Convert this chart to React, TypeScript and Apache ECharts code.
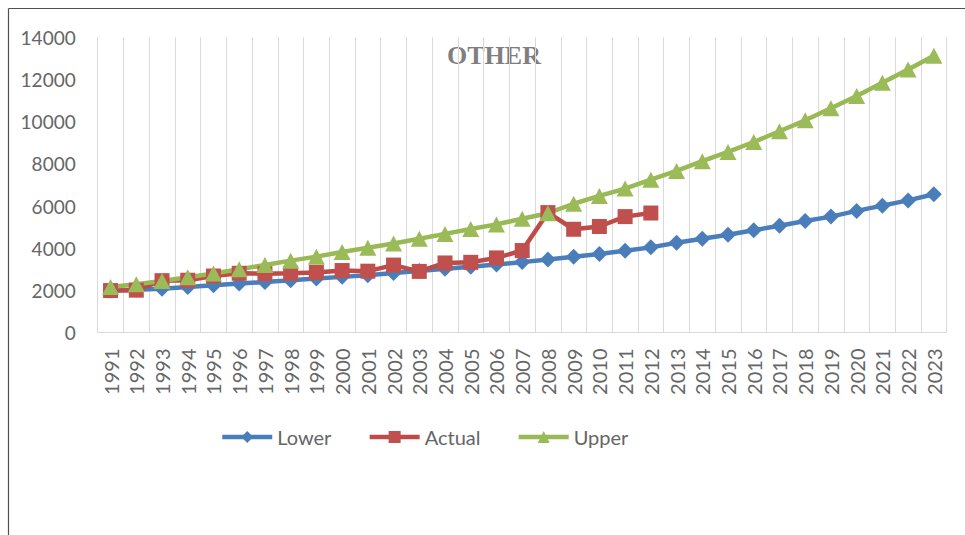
import React, { useEffect, useRef } from "react";
import * as echarts from "echarts";

const years = [
  "1991", "1992", "1993", "1994", "1995", "1996", "1997", "1998", "1999", "2000",
  "2001", "2002", "2003", "2004", "2005", "2006", "2007", "2008", "2009", "2010",
  "2011", "2012", "2013", "2014", "2015", "2016", "2017", "2018", "2019", "2020",
  "2021", "2022", "2023",
];

const lower = [
  1990, 2030, 2080, 2160, 2240, 2320, 2400, 2480, 2560, 2640,
  2720, 2820, 2920, 3020, 3120, 3230, 3340, 3460, 3590, 3730,
  3880, 4040, 4260, 4450, 4640, 4850, 5070, 5290, 5500, 5770,
  6020, 6270, 6560,
];

const actual: (number | null)[] = [
  1990, 2010, 2460, 2480, 2680, 2810, 2790, 2810, 2850, 2940,
  2910, 3200, 2900, 3300, 3330, 3540, 3890, 5690, 4900, 5030,
  5500, 5670, null, null, null, null, null, null, null, null,
  null, null, null,
];

const upper = [
  2160, 2290, 2440, 2620, 2800, 3000, 3200, 3410, 3600, 3820,
  4020, 4220, 4450, 4680, 4910, 5130, 5400, 5660, 6110, 6480,
  6830, 7250, 7670, 8130, 8570, 9040, 9550, 10070, 10640, 11220,
  11850, 12480, 13130,
];

const yTicks = { min: 0, max: 14000, interval: 2000 };
const titleText = "OTHER";

export default function App() {
  const ref = useRef<HTMLDivElement>(null);

  useEffect(() => {
    if (!ref.current) return;
    const chart = echarts.init(ref.current, null, { renderer: "svg" });
    const font = "Lato";
    const labelColor = "#666666";
    chart.setOption({
      animation: false,
      backgroundColor: "#ffffff",
      grid: { left: 97.7, right: 18.3, top: 37.5, bottom: 202.5, containLabel: false },
      graphic: [
        {
          type: "line",
          shape: { x1: 8.5, y1: 8.5, x2: 965, y2: 8.5 },
          style: { stroke: "#505050", lineWidth: 1.2 },
        },
        {
          type: "line",
          shape: { x1: 8.5, y1: 8.5, x2: 8.5, y2: 535 },
          style: { stroke: "#505050", lineWidth: 1.2 },
        },
        {
          type: "text",
          x: 494,
          y: 55,
          style: {
            text: titleText,
            fontSize: 26,
            fontWeight: "bold",
            fontFamily: "Liberation Serif",
            fill: "#7f7f7f",
            align: "center",
            verticalAlign: "middle",
          },
        },
      ],
      legend: {
        left: 215,
        top: 422,
        itemWidth: 50,
        itemHeight: 15,
        itemGap: 36,
        lineStyle: { width: 4.5 },
        textStyle: { color: labelColor, fontSize: 20, fontFamily: font },
        data: ["Lower", "Actual", "Upper"],
      },
      xAxis: {
        type: "category",
        data: years,
        boundaryGap: true,
        axisLine: { show: true, lineStyle: { color: "#d9d9d9", width: 1 } },
        axisTick: { show: false },
        axisLabel: {
          rotate: 90,
          interval: 0,
          color: labelColor,
          fontSize: 20,
          fontFamily: font,
          margin: 16,
        },
        splitLine: { show: true, lineStyle: { color: "#d9d9d9", width: 1 } },
      },
      yAxis: {
        type: "value",
        min: yTicks.min,
        max: yTicks.max,
        interval: yTicks.interval,
        axisLine: { show: false },
        axisTick: { show: false },
        splitLine: { show: false },
        axisLabel: {
          color: labelColor,
          fontSize: 19,
          fontFamily: font,
          margin: 22,
          formatter: (v: number) => String(v),
        },
      },
      series: [
        {
          name: "Lower",
          type: "line",
          data: lower,
          symbol: "diamond",
          symbolSize: 16,
          lineStyle: { color: "#4a7ebb", width: 4.5 },
          itemStyle: { color: "#4a7ebb" },
        },
        {
          name: "Actual",
          type: "line",
          data: actual,
          symbol: "rect",
          symbolSize: 15,
          lineStyle: { color: "#be4b48", width: 4.5 },
          itemStyle: { color: "#c0504d" },
        },
        {
          name: "Upper",
          type: "line",
          data: upper,
          symbol: "triangle",
          symbolSize: [17, 16],
          lineStyle: { color: "#98b954", width: 4.5 },
          itemStyle: { color: "#9bbb59" },
        },
      ],
    });
    return () => chart.dispose();
  }, []);

  return (
    <div
      ref={ref}
      style={{ position: "absolute", left: 0, top: 0, width: 965, height: 535 }}
    />
  );
}
